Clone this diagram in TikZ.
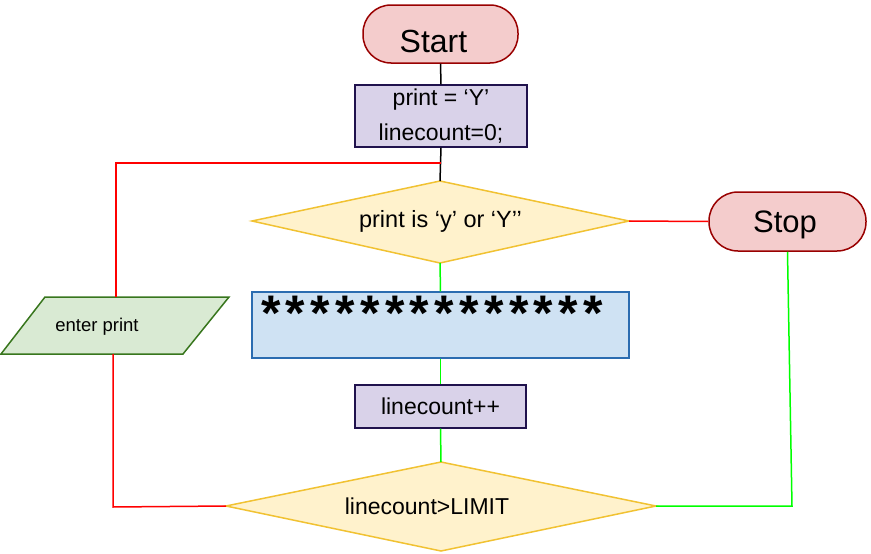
\documentclass[tikz,border=0pt]{standalone}
\usepackage{fontspec}
\setmainfont{Liberation Sans}
\usetikzlibrary{calc}
\definecolor{termfill}{HTML}{F4CCCC}
\definecolor{termdraw}{HTML}{990000}
\definecolor{procfill}{HTML}{D9D2E9}
\definecolor{procdraw}{HTML}{20124D}
\definecolor{decfill}{HTML}{FFF2CC}
\definecolor{decdraw}{HTML}{F1C232}
\definecolor{bluefill}{HTML}{CFE2F3}
\definecolor{bluedraw}{HTML}{2B6CB0}
\definecolor{iofill}{HTML}{D9EAD3}
\definecolor{iodraw}{HTML}{38761D}
\definecolor{lred}{HTML}{FF0000}
\definecolor{lgreen}{HTML}{00FF00}
\newcommand{\onestar}{\makebox[24.8pt][l]{*}}
\begin{document}
\begin{tikzpicture}[x=1pt,y=-1pt,
  term/.style={draw=termdraw,fill=termfill,line width=1.5pt,rounded corners=28pt,
    minimum width=155pt,minimum height=58pt,inner sep=0pt,text depth=0pt},
  proc/.style={draw=procdraw,fill=procfill,line width=1.3pt,inner sep=0pt,
    font=\fontsize{23}{35}\selectfont,align=center},
  txt/.style={inner sep=0pt},
  blk/.style={line width=1.5pt,black},
  rline/.style={line width=1.5pt,lred},
  gline/.style={line width=1.5pt,lgreen},
  decshape/.style={draw=decdraw,fill=decfill,line width=1.5pt,line join=miter}
]
\useasboundingbox (0,0) rectangle (871,554);

% diamond corners
\coordinate (d1t) at (440,181); \coordinate (d1b) at (440,263);
\coordinate (d1l) at (252,221); \coordinate (d1r) at (629,221);
\coordinate (d2t) at (441,462); \coordinate (d2b) at (441,551);
\coordinate (d2l) at (226,506); \coordinate (d2r) at (656,506);

% connector bends
\coordinate (rj) at (441,163);
\coordinate (rtl) at (116,163);
\coordinate (rbl) at (113,507);
\coordinate (gbr) at (792,506);

\node[term,text height=37pt,font=\fontsize{32}{36}\selectfont] (start) at (440.5,34) {\hspace*{-14pt}Start};
\node[proc,minimum width=172pt,minimum height=62pt] (init) at (441,116) {print = ‘Y’\\linecount=0;};
\node[term,minimum width=157pt,minimum height=59pt,rounded corners=29pt,text height=22.2pt,font=\fontsize{31}{36}\selectfont] (stop) at (787.5,221.5) {\hspace*{-5pt}Stop};
\node[draw=bluedraw,fill=bluefill,line width=1.3pt,inner sep=0pt,minimum width=377pt,minimum height=66pt] (stars) at (440.5,325) {};
\node[txt,anchor=west,font=\bfseries\fontsize{50}{50}\selectfont] (starstext) at (261,313) {\onestar\onestar\onestar\onestar\onestar\onestar\onestar\onestar\onestar\onestar\onestar\onestar\onestar\onestar};
\node[proc,minimum width=171pt,minimum height=43pt] (inc) at (440.5,406.5) {linecount++};

\draw[decshape] (d1t) -- (d1r) -- (d1b) -- (d1l) -- cycle;
\node[txt,font=\fontsize{23.5}{28}\selectfont] (cond1) at (440.5,221) {print is ‘y’ or ‘Y’’};
\draw[decshape] (d2t) -- (d2r) -- (d2b) -- (d2l) -- cycle;
\node[txt,font=\fontsize{23}{28}\selectfont] (cond2) at (427,506) {linecount>LIMIT};

% input parallelogram
\coordinate (p1) at (45,297); \coordinate (p2) at (229,297);
\coordinate (p3) at (183,354); \coordinate (p4) at (1,354);
\draw[draw=iodraw,fill=iofill,line width=1.5pt] (p1) -- (p2) -- (p3) -- (p4) -- cycle;
\node[inner sep=0pt,minimum width=184pt,minimum height=57pt] (enter) at (114,325.5) {};
\node[txt,font=\fontsize{18.5}{20}\selectfont] (entertext) at (97,327) {enter print};

% connectors
\draw[blk] (start.south) -- (init.north);
\draw[blk] (init.south) -- (d1t);
\draw[rline] (rj) -- (rtl) -- (rtl |- enter.north);
\draw[rline] (rbl |- enter.south) -- (rbl) -- (d2l);
\draw[rline] (d1r) -- (stop.west);
\draw[gline] (stop.south) -- (gbr) -- (d2r);
\draw[gline] (d1b) -- (stars.north);
\draw[gline] (stars.south) -- (inc.north);
\draw[gline] (inc.south) -- (d2t);
\end{tikzpicture}
\end{document}
